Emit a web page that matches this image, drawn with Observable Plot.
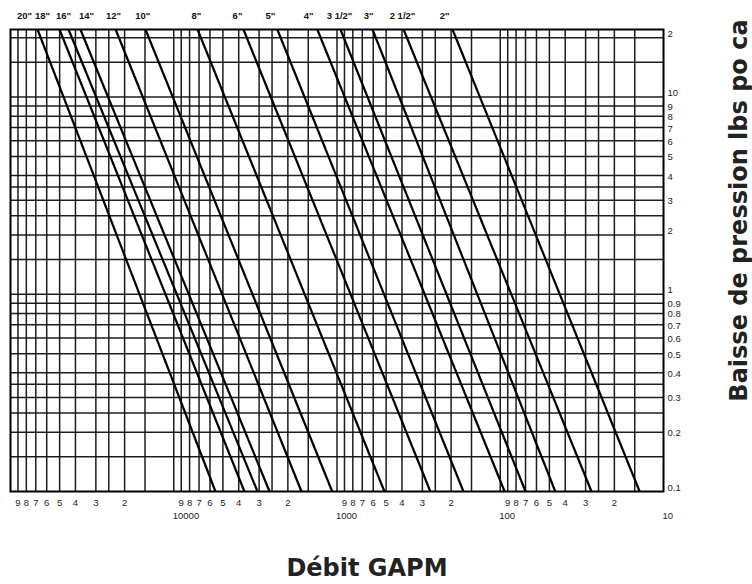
<!DOCTYPE html>
<html><head><meta charset="utf-8">
<script src="https://cdn.jsdelivr.net/npm/d3@7"></script>
<script src="https://cdn.jsdelivr.net/npm/@observablehq/plot@0.6"></script>
<style>body{margin:0;background:#fff;}</style>
</head><body><div id="chart"></div>
<script>
// Pipe sizes and their friction-loss lines (flow GPM at top / bottom pressure)
const pipeSizes = ['20"','18"','16"','14"','12"','10"','8"','6"','5"','4"','3 1/2"','3"','2 1/2"','2"'];
const flowAtTop = [68300, 50100, 44100, 37300, 22700, 14900, 7150, 3740, 2320, 1320, 952, 606, 391, 196];
const flowAtBottom = [5550, 3690, 3070, 2590, 1650, 1070, 512, 268, 168, 94, 70, 46, 27.6, 14.0];
const labelFlow = [82100, 63700, 47400, 34200, 23400, 15500, 7260, 4070, 2560, 1490, 965, 641, 397, 219];
const pressureTop = 22;
const pressureBottom = 0.1;

// X axis (flow, reversed log)
const xGrid = [90000,80000,70000,60000,50000,40000,30000,25000,20000,15000,10000,
  9000,8000,7000,6000,5000,4000,3000,2500,2000,1500,1000,
  900,800,700,600,500,400,300,250,200,150,100,
  90,80,70,60,50,40,30,25,20,15];
const xDigitTicks = [90000,80000,70000,60000,50000,40000,30000,20000,
  9000,8000,7000,6000,5000,4000,3000,2000,
  900,800,700,600,500,400,300,200,
  90,80,70,60,50,40,30,20];
const xDigitLabels = ["9","8","7","6","5","4","3","2",
  "9","8","7","6","5","4","3","2",
  "9","8","7","6","5","4","3","2",
  "9","8","7","6","5","4","3","2"];
const xDecadeTicks = [10000, 1000, 100, 10];
const xDecadeLabels = ["10000", "1000", "100", "10"];

// Y axis (pressure drop, log)
const yGrid = [20,15,10,9,8,7,6,5,4,3.5,3,2.5,2,1.5,1,0.9,0.8,0.7,0.6,0.5,0.4,0.35,0.3,0.25,0.2,0.15];
const yTicks = [20,10,9,8,7,6,5,4,3,2,1,0.9,0.8,0.7,0.6,0.5,0.4,0.3,0.2,0.1];
const yTickLabels = ["2","10","9","8","7","6","5","4","3","2","1","0.9","0.8","0.7","0.6","0.5","0.4","0.3","0.2","0.1"];

const xTitle = "Débit GAPM";
const yTitle = "Baisse de pression lbs po ca";

const lines = pipeSizes.map((s, i) => ({size: s, qTop: flowAtTop[i], pTop: pressureTop, qBottom: flowAtBottom[i], pBottom: pressureBottom}));
const labels = pipeSizes.map((s, i) => ({size: s, q: labelFlow[i]}));
const xDigits = xDigitTicks.map((d, i) => ({q: d, t: xDigitLabels[i]}));
const xDecades = xDecadeTicks.map((d, i) => ({q: d, t: xDecadeLabels[i]}));
const yLabs = yTicks.map((d, i) => ({p: d, t: yTickLabels[i]}));
const isDecade = d => Math.abs(Math.log10(d.p) - Math.round(Math.log10(d.p))) < 1e-9 || d.p === 20 || d.p === 2;

const ink = "#111";
const chart = Plot.plot({
  width: 752, height: 584,
  marginLeft: 10, marginRight: 89, marginTop: 29, marginBottom: 93,
  style: {fontFamily: "'Liberation Sans', Arial, sans-serif", fontSize: "10px", color: "#222", background: "#fff"},
  x: {type: "log", domain: [100000, 10], label: null, axis: null},
  y: {type: "log", domain: [0.1, 22], label: null, axis: null},
  marks: [
    Plot.gridX(xGrid, {stroke: ink, strokeOpacity: 0.95, strokeWidth: 1.5}),
    Plot.gridY(yGrid, {stroke: ink, strokeOpacity: 0.95, strokeWidth: 1.5}),
    Plot.link(lines, {x1: "qTop", y1: "pTop", x2: "qBottom", y2: "pBottom", stroke: "#000", strokeWidth: 2.2}),
    Plot.frame({stroke: "#000", strokeWidth: 2}),
    Plot.text(xDigits, {x: "q", text: "t", frameAnchor: "bottom", lineAnchor: "top", dy: 8, fontSize: 9.5, fill: "#222"}),
    Plot.text(xDecades, {x: "q", text: "t", frameAnchor: "bottom", lineAnchor: "top", textAnchor: "start", dx: -1, dy: 21, fontSize: 9.5, fill: "#222"}),
    Plot.text(yLabs, {filter: d => !isDecade(d), y: "p", text: "t", frameAnchor: "right", textAnchor: "start", dx: 4, dy: 1, fontSize: 9.5, fill: "#222"}),
    Plot.text(yLabs, {filter: isDecade, y: "p", text: "t", frameAnchor: "right", textAnchor: "start", dx: 4, dy: -4, fontSize: 9.5, fill: "#222"}),
    Plot.text(labels, {x: "q", text: "size", frameAnchor: "top", lineAnchor: "middle", dy: -14, fontSize: 9.5, fontWeight: "bold", fill: "#111"}),
    Plot.text([xTitle], {frameAnchor: "bottom", lineAnchor: "middle", dx: 30, dy: 77, fontSize: 24, fontWeight: "bold", fontFamily: "'DejaVu Sans', sans-serif", fill: "#222"}),
    Plot.text([yTitle], {frameAnchor: "right", textAnchor: "middle", lineAnchor: "middle", rotate: -90, dx: 76, dy: -50, fontSize: 24, fontWeight: "bold", fontFamily: "'DejaVu Sans', sans-serif", fill: "#222"})
  ]
});
document.getElementById("chart").appendChild(chart);
</script>
</body></html>
